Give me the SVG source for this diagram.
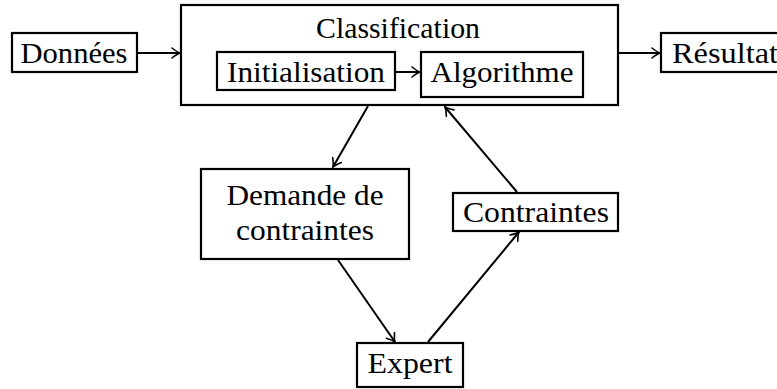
<svg xmlns="http://www.w3.org/2000/svg" width="777" height="389" viewBox="0 0 777 389">
<style>
.box{fill:#fff;stroke:#000;stroke-width:2.2}
.t{font-family:"Liberation Serif","DejaVu Serif",serif;font-size:30px;fill:#000;text-anchor:middle}
.c{fill:none;stroke:#000;stroke-width:2}
</style>
<defs>
<marker id="ar" markerUnits="userSpaceOnUse" viewBox="-10 -6 12 12" markerWidth="12" markerHeight="12" refX="0" refY="0" orient="auto">
<path d="M-8,-5 Q-3,-1 0,0 Q-3,1 -8,5" fill="none" stroke="#000" stroke-width="1.6" stroke-linecap="round"/>
</marker>
</defs>
<rect width="777" height="389" fill="#fff"/>
<g id="classification">
<rect class="box" x="181" y="5" width="437" height="100"/>
<text class="t" x="398" y="38" textLength="164" lengthAdjust="spacingAndGlyphs">Classification</text>
</g>
<g id="donnees">
<rect class="box" x="12" y="33" width="125" height="39"/>
<text class="t" x="74" y="63" textLength="107" lengthAdjust="spacingAndGlyphs">Données</text>
</g>
<g id="initialisation">
<rect class="box" x="217" y="52" width="178" height="38"/>
<text class="t" x="306" y="82" textLength="158" lengthAdjust="spacingAndGlyphs">Initialisation</text>
</g>
<g id="algorithme">
<rect class="box" x="421" y="52" width="162" height="45"/>
<text class="t" x="502" y="82" textLength="143" lengthAdjust="spacingAndGlyphs">Algorithme</text>
</g>
<g id="resultat">
<rect class="box" x="661" y="33" width="130" height="39"/>
<text class="t" x="725" y="63" textLength="106" lengthAdjust="spacingAndGlyphs">Résultat</text>
</g>
<g id="demande">
<rect class="box" x="201" y="169" width="208" height="90"/>
<text class="t" x="305" y="205" textLength="157" lengthAdjust="spacingAndGlyphs">Demande de</text>
<text class="t" x="305" y="240" textLength="138" lengthAdjust="spacingAndGlyphs">contraintes</text>
</g>
<g id="contraintes">
<rect class="box" x="453" y="193" width="165" height="38"/>
<text class="t" x="536" y="222" textLength="146" lengthAdjust="spacingAndGlyphs">Contraintes</text>
</g>
<g id="expert">
<rect class="box" x="357" y="343" width="106" height="44"/>
<text class="t" x="410" y="373" textLength="85" lengthAdjust="spacingAndGlyphs">Expert</text>
</g>
<g id="connectors">
<line class="c" x1="138" y1="53" x2="180" y2="53" marker-end="url(#ar)"/>
<line class="c" x1="619" y1="53" x2="660" y2="53" marker-end="url(#ar)"/>
<line class="c" x1="396" y1="72" x2="420" y2="72" marker-end="url(#ar)"/>
<line class="c" x1="368" y1="106" x2="333" y2="167" marker-end="url(#ar)"/>
<line class="c" x1="338" y1="260" x2="395" y2="342" marker-end="url(#ar)"/>
<line class="c" x1="428" y1="342" x2="519" y2="232" marker-end="url(#ar)"/>
<line class="c" x1="517" y1="192" x2="445" y2="107" marker-end="url(#ar)"/>
</g>
</svg>
